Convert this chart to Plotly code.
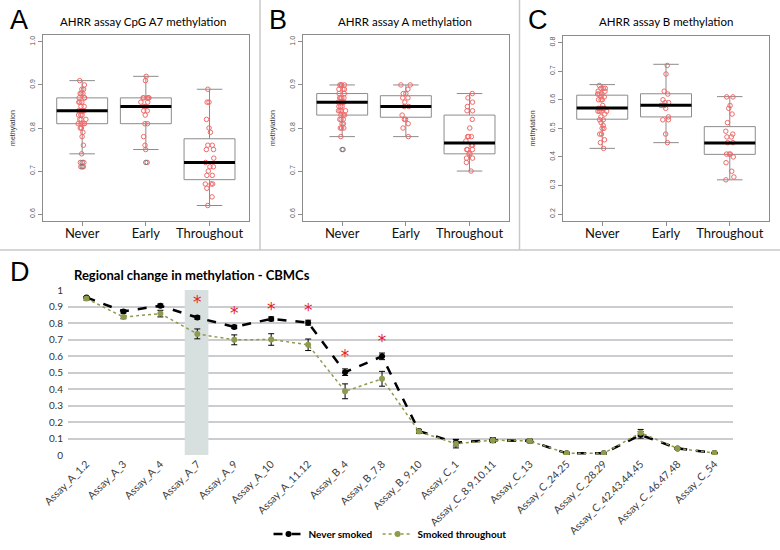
import plotly.graph_objects as go

# ---- panels A-C : AHRR methylation by smoking group ----
groups = ["Never", "Early", "Throughout"]

# box statistics: lower whisker, q1, median, q3, upper whisker
a_low = [0.74, 0.75, 0.62]
a_q1 = [0.81, 0.81, 0.68]
a_med = [0.84, 0.85, 0.72]
a_q3 = [0.87, 0.87, 0.775]
a_up = [0.91, 0.92, 0.89]

b_low = [0.78, 0.78, 0.70]
b_q1 = [0.83, 0.825, 0.74]
b_med = [0.86, 0.85, 0.765]
b_q3 = [0.88, 0.875, 0.83]
b_up = [0.90, 0.90, 0.88]

c_low = [0.43, 0.45, 0.32]
c_q1 = [0.532, 0.54, 0.409]
c_med = [0.571, 0.581, 0.449]
c_q3 = [0.616, 0.621, 0.506]
c_up = [0.653, 0.724, 0.611]

# individual samples
a_never = [0.91, 0.90, 0.89, 0.89, 0.88, 0.88, 0.88, 0.87, 0.87, 0.87, 0.86, 0.86, 0.86, 0.85,
           0.85, 0.84, 0.84, 0.84, 0.84, 0.84, 0.83, 0.83, 0.83, 0.82, 0.82, 0.82, 0.81, 0.81,
           0.81, 0.81, 0.80, 0.80, 0.79, 0.78, 0.76, 0.74, 0.72, 0.72, 0.71, 0.71]
a_early = [0.92, 0.91, 0.87, 0.87, 0.87, 0.87, 0.87, 0.86, 0.86, 0.85, 0.85, 0.84, 0.84, 0.83,
           0.81, 0.81, 0.78, 0.76, 0.75, 0.72]
a_through = [0.89, 0.86, 0.86, 0.82, 0.80, 0.79, 0.76, 0.76, 0.75, 0.75, 0.73, 0.72, 0.71, 0.71,
             0.70, 0.69, 0.69, 0.67, 0.67, 0.67, 0.66, 0.64, 0.62]

b_never = [0.90, 0.90, 0.90, 0.90, 0.89, 0.89, 0.89, 0.88, 0.88, 0.87, 0.87, 0.87, 0.87, 0.86,
           0.86, 0.86, 0.86, 0.86, 0.85, 0.85, 0.85, 0.84, 0.84, 0.84, 0.84, 0.83, 0.83, 0.83,
           0.82, 0.82, 0.82, 0.81, 0.81, 0.80, 0.80, 0.80, 0.78, 0.75]
b_early = [0.90, 0.90, 0.89, 0.88, 0.88, 0.87, 0.87, 0.86, 0.85, 0.85, 0.83, 0.82, 0.82, 0.81,
           0.80, 0.78]
b_through = [0.88, 0.87, 0.86, 0.85, 0.84, 0.84, 0.82, 0.80, 0.78, 0.78, 0.78, 0.77, 0.76, 0.76,
             0.75, 0.75, 0.75, 0.74, 0.74, 0.73, 0.73, 0.72, 0.70]

c_never = [0.65, 0.64, 0.64, 0.64, 0.63, 0.63, 0.62, 0.62, 0.62, 0.61, 0.61, 0.60, 0.60, 0.60,
           0.58, 0.57, 0.57, 0.57, 0.57, 0.56, 0.56, 0.56, 0.56, 0.55, 0.54, 0.53, 0.53, 0.52,
           0.51, 0.50, 0.50, 0.48, 0.48, 0.46, 0.45, 0.43]
c_early = [0.72, 0.69, 0.63, 0.62, 0.60, 0.59, 0.59, 0.58, 0.58, 0.58, 0.57, 0.54, 0.53, 0.53,
           0.48, 0.45]
c_through = [0.61, 0.61, 0.58, 0.57, 0.55, 0.52, 0.49, 0.48, 0.47, 0.47, 0.45, 0.45, 0.41, 0.41,
             0.41, 0.40, 0.38, 0.35, 0.33, 0.32]

# outliers R drew in grey (group number, value)
a_out_x = [1, 1, 2]
a_out_y = [0.72, 0.71, 0.72]
b_out_x = [1]
b_out_y = [0.75]

# ---- panel D : regional change ----
regions = ["Assay_A_1.2", "Assay_A_3", "Assay_A_4", "Assay_A_7", "Assay_A_9", "Assay_A_10",
           "Assay_A_11.12", "Assay_B_4", "Assay_B_7.8", "Assay_B_9.10", "Assay_C_1",
           "Assay_C_8.9.10.11", "Assay_C_13", "Assay_C_24.25", "Assay_C_28.29",
           "Assay_C_42.43.44.45", "Assay_C_46.47.48", "Assay_C_54"]
never = [0.955, 0.87, 0.905, 0.833, 0.776, 0.825, 0.802, 0.502, 0.598, 0.145, 0.075, 0.09,
         0.085, 0.01, 0.01, 0.122, 0.04, 0.012]
never_err = [0.005, 0.01, 0.01, 0.01, 0.01, 0.012, 0.015, 0.02, 0.02, 0.01, 0.02, 0.01,
             0.01, 0.003, 0.003, 0.02, 0.005, 0.003]
smoked = [0.948, 0.836, 0.857, 0.734, 0.698, 0.70, 0.668, 0.386, 0.462, 0.142, 0.068, 0.09,
          0.085, 0.01, 0.01, 0.135, 0.04, 0.012]
smoked_err = [0.01, 0.01, 0.02, 0.03, 0.03, 0.035, 0.035, 0.045, 0.045, 0.01, 0.025, 0.015,
              0.01, 0.005, 0.005, 0.02, 0.005, 0.003]
sig_regions = ["Assay_A_7", "Assay_A_9", "Assay_A_10", "Assay_A_11.12", "Assay_B_4", "Assay_B_7.8"]
sig_y = [0.915, 0.85, 0.872, 0.866, 0.59, 0.68]

W, H = 780, 550
FONT = "Lato"
RED = "#f06a6a"
GREY = "#8c8c8c"
OLIVE = "#8e9a4c"

def px_x(a, b):
    return [a / W, b / W]

def px_y(top, bottom):
    return [1 - bottom / H, 1 - top / H]

fig = go.Figure()

panels = [
    ("", (a_low, a_q1, a_med, a_q3, a_up), (a_never, a_early, a_through), (a_out_x, a_out_y)),
    ("2", (b_low, b_q1, b_med, b_q3, b_up), (b_never, b_early, b_through), (b_out_x, b_out_y)),
    ("3", (c_low, c_q1, c_med, c_q3, c_up), (c_never, c_early, c_through), ([], [])),
]

for ax, stats, samples, outs in panels:
    low, q1, med, q3, up = stats
    xa, ya = "x" + ax, "y" + ax
    fig.add_trace(go.Box(
        x=[1, 2, 3], lowerfence=low, q1=q1, median=med, q3=q3, upperfence=up,
        width=0.8, whiskerwidth=0.5, fillcolor="white",
        line=dict(color=GREY, width=1), boxpoints=False,
        xaxis=xa, yaxis=ya, showlegend=False, hoverinfo="skip"))
    xs, ys = [], []
    for i, s in enumerate(samples):
        xs += [i + 1] * len(s)
        ys += s
    fig.add_trace(go.Scatter(
        x=outs[0], y=outs[1], mode="markers",
        marker=dict(symbol="circle-open", size=4.5, color="#777777", line=dict(width=1)),
        xaxis=xa, yaxis=ya, showlegend=False))
    fig.add_trace(go.Box(
        x=xs, y=ys, width=0.8, boxpoints="all", jitter=0.2, pointpos=0,
        fillcolor="rgba(0,0,0,0)", line=dict(width=0, color="rgba(0,0,0,0)"),
        marker=dict(symbol="circle-open", size=4.5, color=RED, line=dict(width=1)),
        xaxis=xa, yaxis=ya, showlegend=False))
    for i, m in enumerate(med):
        fig.add_trace(go.Scatter(
            x=[i + 0.6, i + 1.4], y=[m, m], mode="lines",
            line=dict(color="black", width=3),
            xaxis=xa, yaxis=ya, showlegend=False, hoverinfo="skip"))

# panel D traces
fig.add_shape(type="rect", xref="x4", yref="y4", x0=2.66, x1=3.3, y0=0, y1=1,
              fillcolor="#d8dfdf", line_width=0, layer="between")
fig.add_trace(go.Scatter(
    x=regions, y=never, name="Never smoked", mode="lines+markers",
    line=dict(color="black", width=2.5, dash="dash"),
    marker=dict(color="black", size=6),
    error_y=dict(type="data", array=never_err, color="black", thickness=1, width=3),
    xaxis="x4", yaxis="y4"))
fig.add_trace(go.Scatter(
    x=regions, y=smoked, name="Smoked throughout", mode="lines+markers",
    line=dict(color=OLIVE, width=1.5, dash="dot"),
    marker=dict(color=OLIVE, size=6),
    error_y=dict(type="data", array=smoked_err, color="black", thickness=1, width=3),
    xaxis="x4", yaxis="y4"))
fig.add_trace(go.Scatter(
    x=sig_regions, y=sig_y, mode="text", text=["*"] * len(sig_regions),
    textfont=dict(color="#e8202a", size=17, family="DejaVu Sans"),
    xaxis="x4", yaxis="y4", showlegend=False, hoverinfo="skip"))

box_x = dict(range=[0.38, 3.62], tickvals=[1, 2, 3], ticktext=groups, automargin=False,
             ticks="outside", ticklen=4, tickcolor=GREY, ticklabelstandoff=-4,
             showline=True, mirror=True, linecolor=GREY, linewidth=1,
             showgrid=False, zeroline=False,
             tickfont=dict(family=FONT, size=13, color="#111111"))
box_y = dict(ticks="outside", ticklen=4, tickcolor=GREY, tickangle=-90, tickformat=".1f",
             showline=True, mirror=True, linecolor=GREY, linewidth=1, automargin=False,
             showgrid=False, zeroline=False,
             tickfont=dict(family="Liberation Sans", size=7, color="#555555"),
             title=dict(text="methylation", standoff=12,
                        font=dict(family="Liberation Sans", size=7, color="#333333")))

fig.update_layout(
    width=W, height=H, autosize=False,
    margin=dict(l=0, r=0, t=0, b=0),
    paper_bgcolor="white", plot_bgcolor="white",
    boxmode="overlay",
    xaxis=dict(box_x, domain=px_x(42.7, 249), anchor="y"),
    yaxis=dict(box_y, domain=px_y(35, 221), anchor="x", range=[0.584, 1.016],
               tickvals=[0.6, 0.7, 0.8, 0.9, 1.0]),
    xaxis2=dict(box_x, domain=px_x(302.7, 509), anchor="y2"),
    yaxis2=dict(box_y, domain=px_y(35, 221), anchor="x2", range=[0.584, 1.016],
                tickvals=[0.6, 0.7, 0.8, 0.9, 1.0]),
    xaxis3=dict(box_x, domain=px_x(562.7, 769.3), anchor="y3"),
    yaxis3=dict(box_y, domain=px_y(35.7, 221), anchor="x3", range=[0.176, 0.824],
                tickvals=[0.2, 0.3, 0.4, 0.5, 0.6, 0.7, 0.8]),
    xaxis4=dict(domain=px_x(68, 733), anchor="y4", type="category", automargin=False,
                categoryorder="array", categoryarray=regions, range=[-0.5, 17.5],
                tickangle=-45, showline=False, showgrid=False, zeroline=False,
                tickfont=dict(family=FONT, size=10.5, color="#404040")),
    yaxis4=dict(domain=px_y(290, 455), anchor="x4", range=[0, 1], dtick=0.1, automargin=False,
                showgrid=True, gridcolor="#c9cdd0", gridwidth=1.5, zeroline=False,
                showline=False, ticklabelstandoff=4,
                tickfont=dict(family=FONT, size=10, color="#333333")),
    legend=dict(orientation="h", x=0.5, xanchor="center", y=0.029, yanchor="middle",
                font=dict(family=FONT, size=10, color="black", weight="bold"),
                bgcolor="rgba(0,0,0,0)"),
    showlegend=True,
)

# panel separators
sep = dict(type="line", xref="paper", yref="paper", line=dict(color="#c8c8c8", width=1.5))
fig.add_shape(sep, x0=260 / W, x1=260 / W, y0=1, y1=1 - 250 / H)
fig.add_shape(sep, x0=519.5 / W, x1=519.5 / W, y0=1, y1=1 - 250 / H)
fig.add_shape(sep, x0=0, x1=1, y0=1 - 250 / H, y1=1 - 250 / H)

def note(text, x, y, size, bold=False, family=FONT, anchor="center"):
    fig.add_annotation(text=text, xref="paper", yref="paper", x=x / W, y=1 - y / H,
                       xanchor=anchor, yanchor="middle", showarrow=False,
                       font=dict(family=family, size=size, color="black",
                                 weight="bold" if bold else "normal"))

note("A", 8, 20, 27, family="Liberation Sans", anchor="left")
note("B", 267, 20, 27, family="Liberation Sans", anchor="left")
note("C", 526, 20, 27, family="Liberation Sans", anchor="left")
note("D", 8, 272, 27, family="Liberation Sans", anchor="left")
note("AHRR assay CpG A7 methylation", 143, 21, 11.5)
note("AHRR assay A methylation", 405, 21, 11.5)
note("AHRR assay B methylation", 666, 21, 11.5)
note("Regional change in methylation - CBMCs", 72, 275, 13, bold=True, anchor="left")

# the page's default 8px body margin would push the figure off its frame
fig.write_html("out.html", config={"displayModeBar": False},
               post_script="document.body.style.margin='0px';")
